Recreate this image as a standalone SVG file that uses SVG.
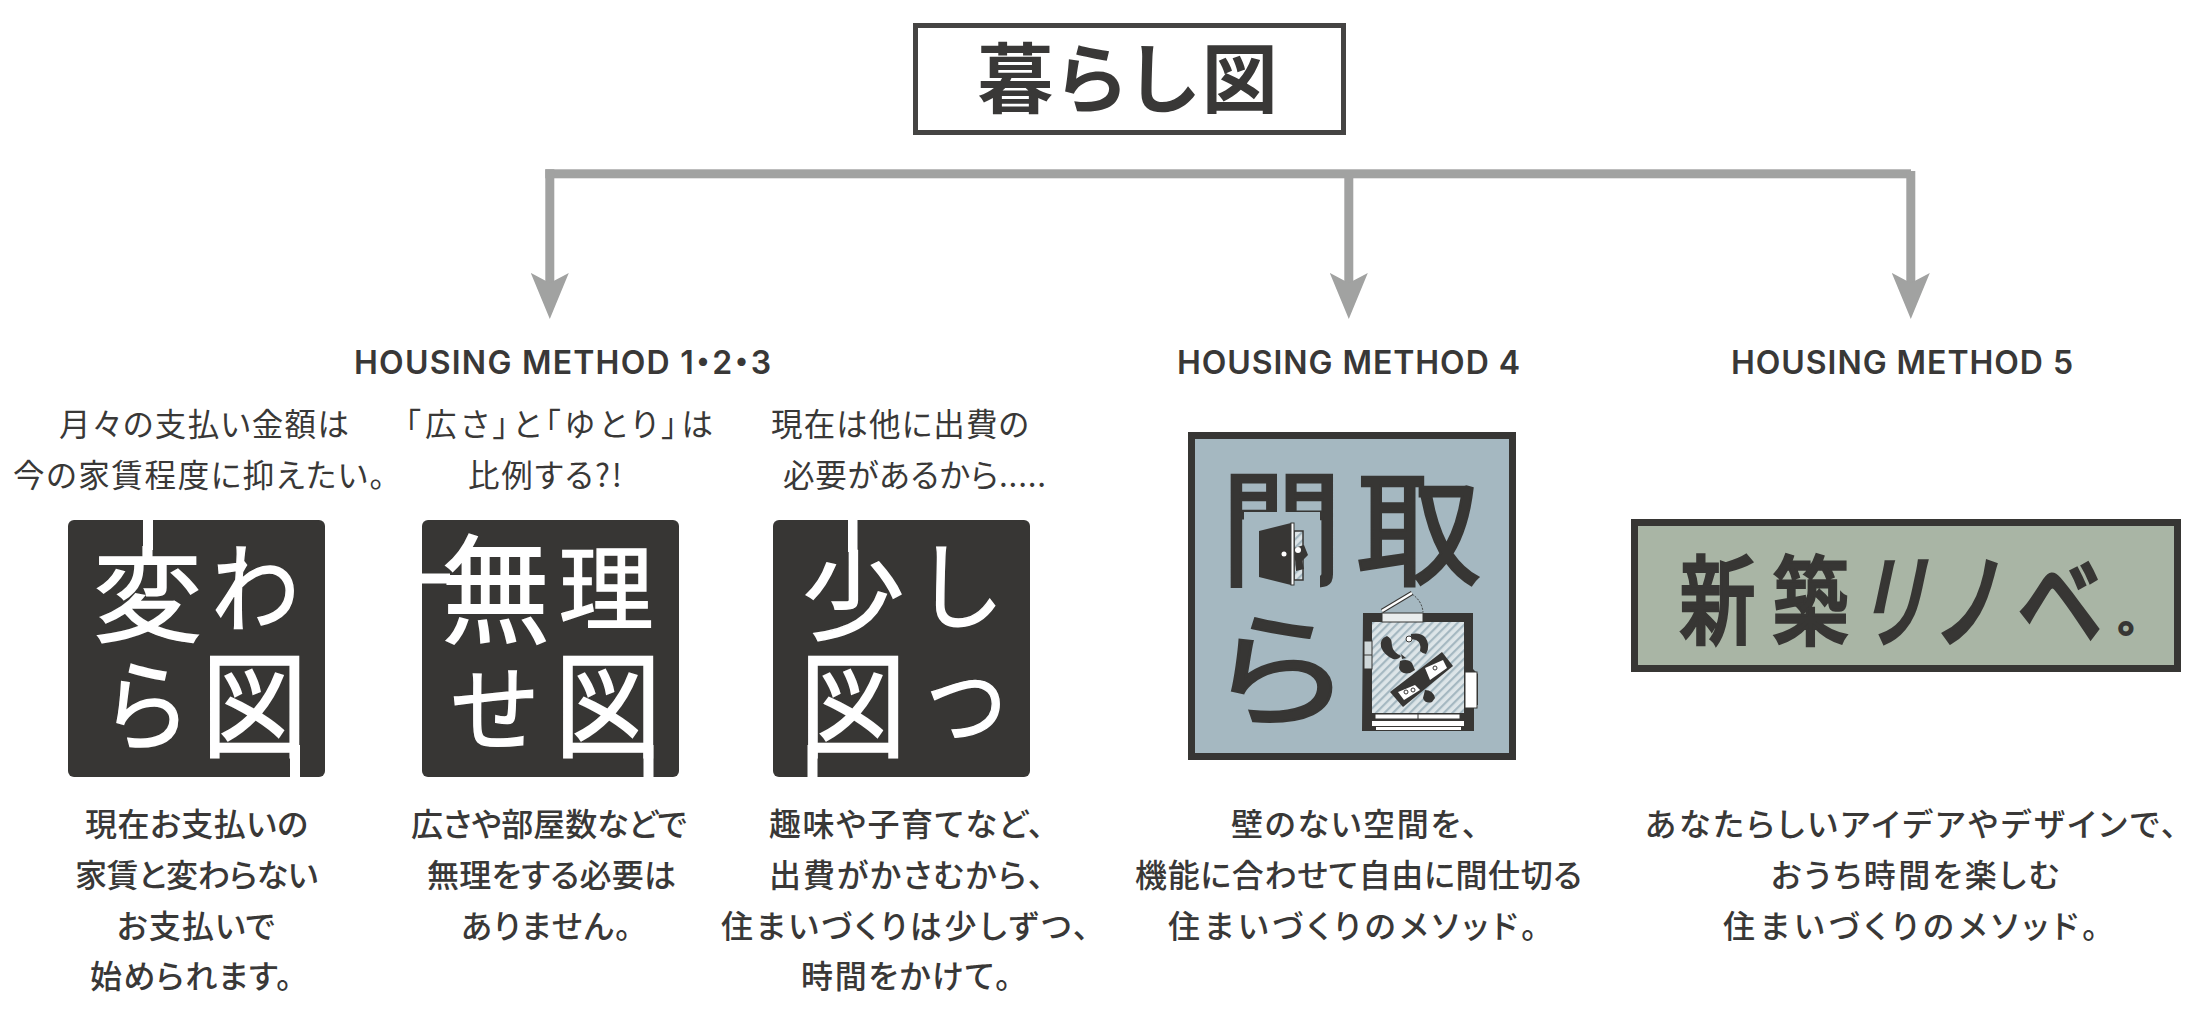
<svg xmlns="http://www.w3.org/2000/svg" width="2200" height="1013" viewBox="0 0 2200 1013">
<style>
text{font-family:"Noto Sans CJK JP","Noto Sans",sans-serif;fill:#393837;font-feature-settings:"palt"}
.t{font-size:31.500px;font-weight:400}
.b{font-size:32px;font-weight:500}
.h{font-family:Inter,"Noto Sans CJK JP",sans-serif;font-size:32px;font-weight:600}
.g{font-size:100px;text-anchor:middle;font-weight:400}
.w{fill:#fff;stroke:#fff;stroke-width:1.500px}
.d{fill:#373634;stroke:#373634;stroke-width:2px}
.e{fill:#373634;stroke:#373634;stroke-width:3px;font-weight:500}
.wh{fill:#fff}.dk{fill:#373634}
.ln{fill:none;stroke:#a1a2a1;stroke-width:9;marker-end:url(#ah)}
.o{stroke:#373634;stroke-width:1}
</style>
<defs>
<marker id="ah" markerUnits="userSpaceOnUse" markerWidth="46" markerHeight="38" refX="10" refY="19" orient="auto" viewBox="0 0 46 38"><path d="M0 0L10 19L0 38L46 19Z" fill="#a1a2a1"/></marker>
<pattern id="ht" width="6" height="6" patternUnits="userSpaceOnUse" patternTransform="rotate(-45)"><rect width="6" height="6" fill="#dde5e8"/><rect width="6" height="2.200" fill="#a5b8c1"/></pattern>
</defs>

<g id="connectors">
<rect x="545.300" y="169.300" width="1365.700" height="9" fill="#a1a2a1"/>
<line x1="549.800" y1="169.300" x2="549.800" y2="283" class="ln"/>
<line x1="1348.800" y1="175" x2="1348.800" y2="283" class="ln"/>
<line x1="1910.800" y1="171" x2="1910.800" y2="283" class="ln"/>
</g>

<g id="title">
<rect x="915.500" y="25.500" width="428" height="107" fill="#fff" stroke="#454443" stroke-width="5"/>
<text x="1130" y="107" style="font-size:76px;font-weight:700;letter-spacing:5px;text-anchor:middle">暮らし図</text>
</g>

<g id="method123-head"><text class="h" x="354" y="374" textLength="417">HOUSING METHOD 1<tspan font-family="Noto Sans CJK JP">・</tspan>2<tspan font-family="Noto Sans CJK JP">・</tspan>3</text></g>
<g id="method4-head"><text class="h" x="1177" y="374" textLength="343">HOUSING METHOD 4</text></g>
<g id="method5-head"><text class="h" x="1731" y="374" textLength="342">HOUSING METHOD 5</text></g>

<g id="col1">
<text class="t" x="59" y="436" textLength="290">月々の支払い金額は</text>
<text class="t" x="13" y="487" textLength="372">今の家賃程度に抑えたい。</text>
<rect x="68" y="520" width="257" height="257" rx="6" class="dk"/>
<g>
<text class="g w" transform="translate(147.500 595) scale(1.09 1.03)" y="38">変</text>
<text class="g w" transform="translate(255 588) scale(.88 .96)" y="38">わ</text>
<text class="g w" transform="translate(147 705) scale(.9 1)" y="38">ら</text>
<text class="g w" transform="translate(254.500 704) scale(1.06 1.15)" y="38">図</text>
<rect x="143" y="520" width="10" height="30" class="wh"/>
<rect x="290" y="745" width="10" height="32" class="wh"/>
</g>
<text class="b" x="85" y="836" textLength="223">現在お支払いの</text>
<text class="b" x="75" y="887" textLength="243">家賃と変わらない</text>
<text class="b" x="117" y="938" textLength="158">お支払いで</text>
<text class="b" x="90" y="988" textLength="202">始められます。</text>
</g>

<g id="col2">
<text class="t" x="405" y="436" textLength="308">「広さ」と「ゆとり」は</text>
<text class="t" x="468" y="487" textLength="154">比例する?!</text>
<rect x="422" y="520" width="257" height="257" rx="6" class="dk"/>
<g>
<text class="g w" transform="translate(495.500 589) scale(1.08 1.18)" y="38">無</text>
<text class="g w" transform="translate(606 588) scale(.95 .93)" y="38">理</text>
<text class="g w" transform="translate(493.500 709) scale(.89 .95)" y="38">せ</text>
<text class="g w" transform="translate(608 704) scale(1.07 1.15)" y="38">図</text>
<rect x="422" y="573.500" width="28" height="10" class="wh"/>
<rect x="643.500" y="745" width="10" height="32" class="wh"/>
</g>
<text class="b" x="411" y="836" textLength="276">広さや部屋数などで</text>
<text class="b" x="427" y="887" textLength="249">無理をする必要は</text>
<text class="b" x="461" y="938" textLength="170">ありません。</text>
</g>

<g id="col3">
<text class="t" x="771" y="436" textLength="258">現在は他に出費の</text>
<text class="t" x="783" y="487" textLength="263">必要があるから.....</text>
<rect x="773" y="520" width="257" height="257" rx="6" class="dk"/>
<g>
<text class="g w" transform="translate(853.500 595) scale(1.02 .97)" y="38">少</text>
<text class="g w" transform="translate(959.700 586) scale(.88 .95)" y="38">し</text>
<text class="g w" transform="translate(853 704) scale(1.07 1.15)" y="38">図</text>
<text class="g w" transform="translate(966.300 704) scale(.81 .89)" y="38">つ</text>
<rect x="848" y="520" width="9.500" height="32" class="wh"/>
<rect x="807.500" y="745" width="10" height="32" class="wh"/>
</g>
<text class="b" x="769" y="836" textLength="275">趣味や子育てなど、</text>
<text class="b" x="769" y="887" textLength="275">出費がかさむから、</text>
<text class="b" x="721" y="938" textLength="368">住まいづくりは少しずつ、</text>
<text class="b" x="801" y="988" textLength="210">時間をかけて。</text>
</g>

<g id="col4">
<rect x="1191.500" y="435.500" width="321" height="321" fill="#a5b8c1" stroke="#373634" stroke-width="7"/>
<text class="g d" transform="translate(1281.500 528.500) scale(1.21 1.26)" y="38">間</text>
<rect x="1244" y="512" width="76" height="80" fill="#a5b8c1"/>
<text class="g d" transform="translate(1418.500 528.500) scale(1.245 1.26)" y="38">取</text>
<text class="g d" transform="translate(1281 669) scale(1.46 1.24)" y="38">ら</text>
<g id="door">
<rect x="1294" y="531" width="9" height="49" fill="url(#ht)" stroke="#373634" stroke-width="1.500"/>
<path d="M1259 531L1291 523V585L1259 577Z" class="dk"/>
<rect x="1291" y="523" width="3" height="62" fill="#fff" stroke="#373634"/>
<circle cx="1284" cy="554" r="2.500" class="wh"/>
<path d="M1294 548l10-3l4 10l-6 6l2 8l-8 2Z" class="dk"/>
<circle cx="1298" cy="550" r="3" class="wh"/>
</g>
<g id="plan">
<path d="M1363 613H1473V669L1478 674V705H1474V731H1362Z" class="dk"/>
<rect x="1372" y="622" width="92" height="91" fill="url(#ht)"/>
<rect x="1382" y="613" width="41" height="9" fill="#e9eded" class="o"/>
<path d="M1382 611L1412 593" stroke="#373634" stroke-width="4.500" fill="none"/><path d="M1382 611L1412 593" stroke="#fff" stroke-width="2.500" fill="none"/>
<path d="M1412 594Q1422 601 1423 612" fill="none" stroke="#373634" stroke-width="1" stroke-dasharray="2 1.500"/>
<rect x="1364" y="641" width="8" height="28" fill="#cfd8da" class="o"/><line x1="1364" y1="655" x2="1372" y2="655" class="o"/>
<rect x="1465" y="672" width="12" height="36" class="wh o"/>
<rect x="1375" y="714" width="85" height="5" class="wh o"/><line x1="1418" y1="714" x2="1418" y2="719" class="o"/>
<rect x="1372" y="721" width="92" height="5" class="wh"/>
<rect x="1376" y="727" width="85" height="3" class="wh"/>
<path d="M1390 692L1442 652L1453 666L1403 707Z" class="dk"/>
<path d="M1425 668L1443 660L1447 668L1430 680Z" class="wh"/><circle cx="1435" cy="668" r="2" fill="none" class="o"/>
<path d="M1398 692L1415 685L1420 690L1404 700Z" class="wh"/><circle cx="1406" cy="692" r="2" fill="none" class="o"/><circle cx="1413" cy="690" r="2" fill="none" class="o"/>
<path d="M1400 661q8-3 12 2l3 7l-5 3q-9 2-11-5Z" class="dk"/>
<path d="M1425 690q8 0 10 8l-3 4q-7 2-9-4Z" class="dk"/>
<path d="M1387 636q-8 3-6 11q3 8 12 12q5 1 8-3q-8-4-9-10q0-8-5-10Z" class="dk"/><path d="M1401 654l5 4l-4 1Z" class="dk"/>
<path d="M1411 634q9-2 14 3q6 8 1 17q-3 0-6-3q2-8-4-11l-5-1Z" class="dk"/><circle cx="1409" cy="639" r="3" class="wh o"/>
</g>
<text class="b" x="1231" y="836" textLength="247">壁のない空間を、</text>
<text class="b" x="1135" y="887" textLength="447">機能に合わせて自由に間仕切る</text>
<text class="b" x="1168" y="938" textLength="369">住まいづくりのメソッド。</text>
</g>

<g id="col5">
<rect x="1634.500" y="522.500" width="543" height="146" fill="#a9b5a5" stroke="#373634" stroke-width="7"/>
<text class="g e" transform="translate(1717.500 599.500) scale(.76 .97)" y="38">新</text>
<text class="g e" transform="translate(1810.500 600) scale(.76 .97)" y="38">築</text>
<text class="g e" transform="translate(1897 600) skewX(-12) scale(.72 1.02)" y="38">リ</text>
<text class="g e" transform="translate(1969.500 600) scale(.77 1.05)" y="38">ノ</text>
<text class="g e" transform="translate(2060 600) scale(.85 1.05)" y="38">ベ</text>
<text class="e" transform="translate(2130 635) scale(.7)" x="-18" y="-4" style="font-size:60px">。</text>
<text class="b" x="1645" y="836" textLength="532">あなたらしいアイデアやデザインで、</text>
<text class="b" x="1771" y="887" textLength="288">おうち時間を楽しむ</text>
<text class="b" x="1723" y="938" textLength="375">住まいづくりのメソッド。</text>
</g>
</svg>
